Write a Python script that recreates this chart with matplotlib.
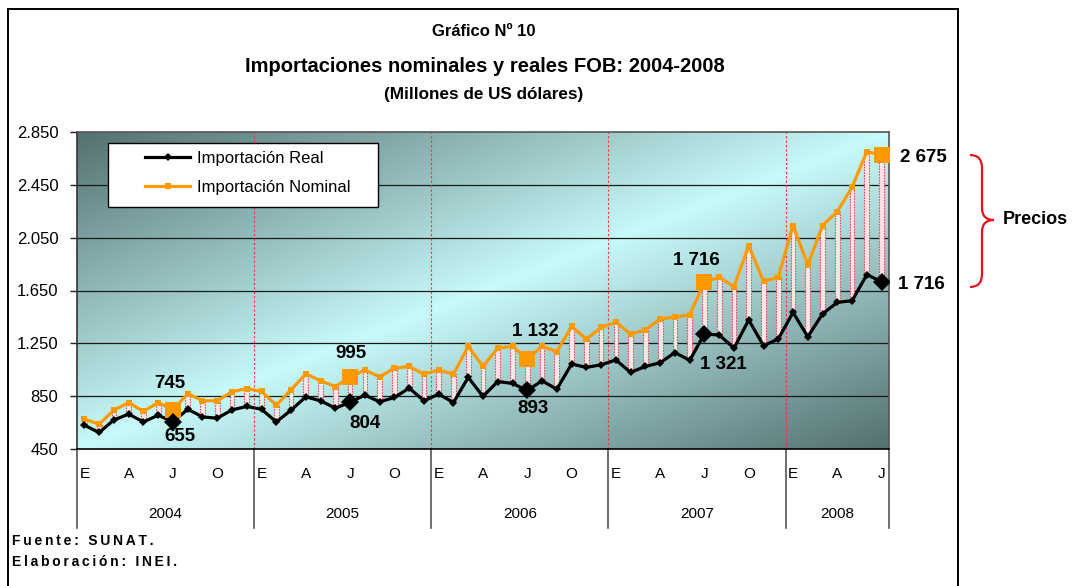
import numpy as np
import matplotlib
matplotlib.use("Agg")
import matplotlib.pyplot as plt
from matplotlib import font_manager
from matplotlib.patches import Rectangle, PathPatch
from matplotlib.path import Path
from matplotlib.lines import Line2D
import matplotlib.transforms as mtransforms
from matplotlib.ticker import FuncFormatter

# ---------------- data ----------------
years = ["2004", "2005", "2006", "2007", "2008"]
months_per_year = [12, 12, 12, 12, 7]
month_letters = ["E", "A", "J", "O"]          # Enero, Abril, Julio, Octubre
month_letter_offsets = [0, 3, 6, 9]

real = [630, 575, 670, 714, 655, 706, 655, 751, 693, 683, 746, 772,
        751, 655, 744, 845, 815, 759, 804, 858, 807, 840, 911, 815,
        865, 802, 992, 848, 961, 946, 893, 966, 903, 1093, 1068, 1087,
        1124, 1030, 1075, 1103, 1180, 1121, 1321, 1313, 1214, 1427, 1232, 1283,
        1484, 1300, 1473, 1560, 1573, 1770, 1716]
nominal = [676, 638, 744, 802, 734, 802, 745, 870, 815, 815, 883, 908,
           886, 782, 898, 1019, 966, 923, 995, 1049, 996, 1062, 1075, 1017,
           1047, 1017, 1227, 1075, 1214, 1227, 1132, 1227, 1186, 1378, 1282, 1370,
           1410, 1319, 1352, 1434, 1448, 1465, 1716, 1750, 1679, 1990, 1719, 1750,
           2142, 1844, 2142, 2248, 2432, 2702, 2675]
highlight_idx = [6, 18, 30, 42, 54]
nominal_labels = ["745", "995", "1 132", "1 716", "2 675"]
real_labels = ["655", "804", "893", "1 321", "1 716"]
yticks = [450, 850, 1250, 1650, 2050, 2450, 2850]

# ---------------- fonts ----------------
names = sorted({f.name for f in font_manager.fontManager.ttflist})
SANS = "Liberation Sans" if "Liberation Sans" in names else "DejaVu Sans"
plt.rcParams["font.family"] = [SANS, "DejaVu Sans"]

W, H = 1079, 586
fig = plt.figure(figsize=(W / 100, H / 100), dpi=100)
fig.patch.set_facecolor("white")

L, R, T, B = 77, 889, 132, 449
ax = fig.add_axes([L / W, 1 - B / H, (R - L) / W, (B - T) / H])

n = len(real)
x = np.arange(n)
real = np.array(real, dtype=float)
nominal = np.array(nominal, dtype=float)

ax.set_xlim(-0.5, n - 0.5)
ax.set_ylim(450, 2850)

# background gradient (dark corners top-left / bottom-right, light diagonal band)
gx = np.linspace(0, 1, 400)
gy = np.linspace(1, 0, 200)  # top row first
GX, GY = np.meshgrid(gx, gy)
s = (GX + (1 - GY)) / 2.0
f = np.abs(2 * s - 1)
dark = np.array([84, 112, 112]) / 255.0
light = np.array([200, 250, 250]) / 255.0
img = light[None, None, :] + (dark - light)[None, None, :] * f[..., None]
ax.imshow(img, extent=(-0.5, n - 0.5, 450, 2850), aspect="auto", zorder=0,
          interpolation="bilinear")

# gridlines
for yv in yticks[1:-1]:
    ax.axhline(yv, color="#1a1a1a", lw=0.9, zorder=1)

# red dotted year separators
cum = np.cumsum(months_per_year)
for c in cum[:-1]:
    ax.axvline(c - 0.5, color="#ff3030", lw=0.8, ls=(0, (2, 2)), zorder=1)

# drop bars between series
ax.bar(x, nominal - real, bottom=real, width=0.32, facecolor="#fde6e8",
       edgecolor="#d9535f", linewidth=0.8, linestyle=(0, (1.5, 1)), zorder=2)

# series
nom_line, = ax.plot(x, nominal, color="#FF9900", lw=2.3, marker="s", ms=4.8,
                    markeredgewidth=0, zorder=4, label="Importación Nominal")
real_line, = ax.plot(x, real, color="black", lw=2.3, marker="D", ms=4.2,
                     markeredgewidth=0, zorder=5, label="Importación Real")
hi = np.array(highlight_idx)
ax.plot(hi, nominal[hi], ls="none", marker="s", ms=11, color="#FF9900",
        markeredgewidth=0, zorder=6)
ax.plot(hi, real[hi], ls="none", marker="D", ms=9, color="black",
        markeredgewidth=0, zorder=6)

# annotations (offsets in pixels)
nom_offsets = [(-3, 27, "center"), (1, 24, "center"), (8, 27, "center"),
               (-8, 21, "center"), (18, -2, "left")]
real_offsets = [(7, -15, "center"), (15, -21, "center"), (6, -18, "center"),
                (19, -31, "center"), (16, -3, "left")]
for i, lab, (dx, dy, ha) in zip(highlight_idx, nominal_labels, nom_offsets):
    ax.annotate(lab, (i, nominal[i]), xytext=(dx, dy), textcoords="offset pixels",
                ha=ha, va="center", fontsize=13.5, fontweight="bold",
                annotation_clip=False, zorder=8)
for i, lab, (dx, dy, ha) in zip(highlight_idx, real_labels, real_offsets):
    ax.annotate(lab, (i, real[i]), xytext=(dx, dy), textcoords="offset pixels",
                ha=ha, va="center", fontsize=13.5, fontweight="bold",
                annotation_clip=False, zorder=8)

# y axis
ax.set_yticks(yticks)
ax.yaxis.set_major_formatter(FuncFormatter(lambda v, p: f"{int(v):,}".replace(",", ".")))
ax.tick_params(axis="y", direction="out", length=5, width=1, pad=8.5,
               labelsize=12, colors="#222222", labelcolor="black")
ax.set_xticks([])

for side in ["top", "right"]:
    ax.spines[side].set_color("#555555")
    ax.spines[side].set_linewidth(1.2)
ax.spines["left"].set_color("#333333")
ax.spines["left"].set_linewidth(1.2)
ax.spines["bottom"].set_color("black")
ax.spines["bottom"].set_linewidth(1.2)

# category axis (two-level)
trans = mtransforms.blended_transform_factory(ax.transData, ax.transAxes)
bounds = [-0.5] + [c - 0.5 for c in cum]
for bx in bounds:
    ax.add_line(Line2D([bx, bx], [0, -0.249], transform=trans, color="#555555",
                       lw=1.2, clip_on=False))
start = 0
for yr, m in zip(years, months_per_year):
    for letter, off in zip(month_letters, month_letter_offsets):
        if off < m:
            ax.text(start + off, -0.079, letter, transform=trans, ha="center",
                    va="center", fontsize=11)
    ax.text(start + (m - 1) / 2.0, -0.205, yr, transform=trans, ha="center",
            va="center", fontsize=11)
    start += m

# legend (frame drawn separately)
leg = ax.legend(handles=[real_line, nom_line], loc="upper left",
                bbox_to_anchor=((145 - L) / (R - L), (B - 151) / (B - T)),
                frameon=False, fontsize=12, handlelength=2.7, handletextpad=0.4,
                labelspacing=0.85, borderpad=0, borderaxespad=0)
leg.set_zorder(10)
ax.add_patch(Rectangle(((108 - L) / (R - L), (B - 207) / (B - T)),
                       (378 - 108) / (R - L), (207 - 143) / (B - T),
                       transform=ax.transAxes, facecolor="white",
                       edgecolor="black", lw=1.0, zorder=9))

# titles
fig.text(484 / W, 1 - 31 / H, "Gráfico Nº 10", ha="center", va="center",
         fontsize=12, fontweight="bold")
fig.text(485 / W, 1 - 66 / H, "Importaciones nominales y reales FOB: 2004-2008",
         ha="center", va="center", fontsize=14.5, fontweight="bold")
fig.text(484 / W, 1 - 95 / H, "(Millones de US dólares)", ha="center",
         va="center", fontsize=12.3, fontweight="bold")

# source
def spaced(t):
    return "\u2009".join(t)
fig.text(12 / W, 1 - 541 / H, spaced("Fuente: SUNAT."), ha="left", va="center",
         fontsize=10, fontweight="bold")
fig.text(12 / W, 1 - 562 / H, spaced("Elaboración: INEI."), ha="left",
         va="center", fontsize=10, fontweight="bold")

# Precios brace
def P(px, py):
    return (px / W, 1 - py / H)
verts = [P(970, 155), P(982, 155), P(982, 168), P(982, 208), P(982, 220),
         P(994, 220), P(982, 220), P(982, 232), P(982, 274), P(982, 287), P(970, 287)]
codes = [Path.MOVETO, Path.CURVE3, Path.CURVE3, Path.LINETO, Path.CURVE3, Path.CURVE3,
         Path.CURVE3, Path.CURVE3, Path.LINETO, Path.CURVE3, Path.CURVE3]
fig.patches.append(PathPatch(Path(verts, codes), transform=fig.transFigure,
                             facecolor="none", edgecolor="#e8121c", lw=1.6))
fig.text(1003 / W, 1 - 220 / H, "Precios", ha="left", va="center", fontsize=13,
         fontweight="bold")

# outer frame
fr = dict(transform=fig.transFigure, color="black", lw=1.4)
fig.add_artist(Line2D([8 / W, 958 / W], [1 - 9 / H, 1 - 9 / H], **fr))
fig.add_artist(Line2D([8 / W, 8 / W], [1 - 9 / H, 0], **fr))
fig.add_artist(Line2D([958 / W, 958 / W], [1 - 9 / H, 0], **fr))

fig.savefig("out.png", dpi=100)
